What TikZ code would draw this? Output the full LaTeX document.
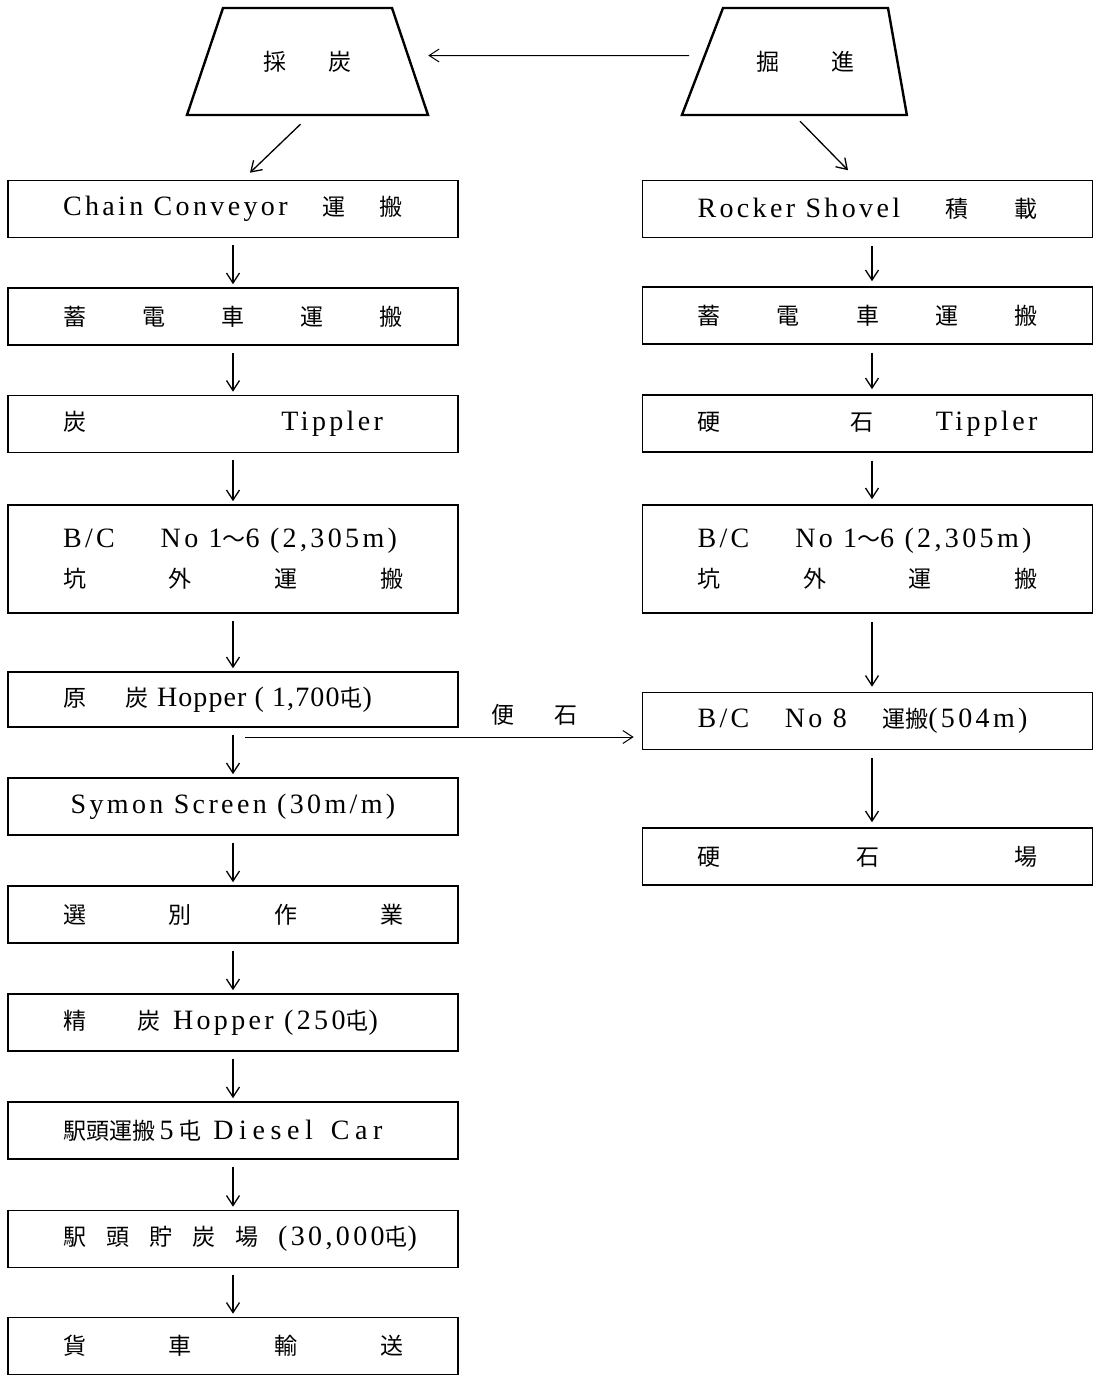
\documentclass[tikz,border=0pt]{standalone}
\usepackage{fontspec}
\setmainfont{Liberation Serif}[LetterSpace=4]
\newfontfamily\jpfont{Noto Sans CJK JP}
\newfontfamily\lspfont{Liberation Serif}[LetterSpace=12]
\newfontfamily\lspwide{Liberation Serif}[LetterSpace=20]
\usetikzlibrary{shapes.geometric,arrows.meta,positioning}
\newcommand{\ja}[1]{{\jpfont\fontsize{23}{28}\selectfont #1}}
\newcommand{\boxrow}[1]{\hbox to 340pt{#1}}

\begin{document}
\begin{tikzpicture}[x=1pt,y=1pt,
  box/.style={draw, line width=1.6pt, minimum width=450pt, minimum height=57pt, inner sep=0pt, font=\fontsize{28}{34}\selectfont},
  trap/.style={draw, line width=2.4pt, trapezium, text height=20pt, text depth=3pt, inner ysep=42pt},
  flow/.style={line width=1.3pt, -{Straight Barb[length=10pt,width=13pt]}, shorten <=7pt, shorten >=3pt}]
 \useasboundingbox (0,0) rectangle (1095,-1376);
 \node[trap, trapezium angle=71.4, inner xsep=40.5pt] (saitan) at (307.5,-61.5) {\ja{採\hspace{42pt}炭}};
 \node[trap, trapezium left angle=69, trapezium right angle=80, inner xsep=33.5pt] (kussin) at (805.5,-61.5) {\ja{掘\hspace{52pt}進}};

 \node[box] (chain) at (233,-209) {\boxrow{\lspfont Chain Conveyor\hfill\ja{運}\hfill\ja{搬}}};
 \node[box] (battL) at (233,-316.5) {\boxrow{\ja{蓄\hfill 電\hfill 車\hfill 運\hfill 搬}}};
 \node[box] (tipL) at (233,-424) {\boxrow{\ja{炭}\hfill{\lspfont Tippler}\hspace*{20pt}}};
 \node[box, minimum height=108pt, align=center] (bcL) at (233,-559) {\boxrow{\lspfont B/C\hfill No 1\ja{〜}6 (2,305m)\hspace*{6pt}}\\[6pt]\boxrow{\ja{坑\hfill 外\hfill 運\hfill 搬}}};
 \node[box, minimum height=55pt] (rawhop) at (233,-699.5) {\boxrow{\ja{原}\hspace{40pt}\ja{炭}\hspace{8pt}Hopper ( 1,700\ja{屯})\hfill}};
 \node[box] (screen) at (233,-806.5) {\boxrow{\hfil\lspfont Symon Screen (30m/m)\hfil}};
 \node[box] (sort) at (233,-914.5) {\boxrow{\ja{選\hfill 別\hfill 作\hfill 業}}};
 \node[box] (cleanhop) at (233,-1022.5) {\boxrow{\ja{精}\hspace{52pt}\ja{炭}\hspace{12pt}{\lspfont Hopper (250}\ja{屯}{\lspfont )}\hfill}};
 \node[box] (diesel) at (233,-1130.5) {\boxrow{\ja{駅頭運搬}\,5\,\ja{屯}\hspace{12pt}{\lspwide Diesel}\hspace{18pt}{\lspwide Car}\hfill}};
 \node[box] (yard) at (233,-1239) {\boxrow{\ja{駅}\hfill\ja{頭}\hfill\ja{貯}\hfill\ja{炭}\hfill\ja{場}\hfill{\lspfont (30,000}\ja{屯}{\lspfont )}\hspace*{-14pt}}};
 \node[box] (wagon) at (233,-1346) {\boxrow{\ja{貨\hfill 車\hfill 輸\hfill 送}}};

 \node[box] (shovel) at (867.5,-209) {\boxrow{\lspfont Rocker Shovel\hfill\ja{積}\hfill\ja{載}}};
 \node[box] (battR) at (867.5,-315.5) {\boxrow{\ja{蓄\hfill 電\hfill 車\hfill 運\hfill 搬}}};
 \node[box] (tipR) at (867.5,-423.5) {\boxrow{\ja{硬}\hspace{130pt}\ja{石}\hfill{\lspfont Tippler}}};
 \node[box, minimum height=108pt, align=center] (bcR) at (867.5,-559) {\boxrow{\lspfont B/C\hfill No 1\ja{〜}6 (2,305m)\hspace*{6pt}}\\[6pt]\boxrow{\ja{坑\hfill 外\hfill 運\hfill 搬}}};
 \node[box] (bcEight) at (867.5,-721) {\boxrow{\lspfont B/C\hfill No 8\hfill\ja{運搬}(504m)\hspace*{10pt}}};
 \node[box] (rockyard) at (867.5,-856.5) {\boxrow{\ja{硬\hfill 石\hfill 場}}};

 \draw[flow, line width=1pt, shorten <=12pt, shorten >=17pt] ([yshift=6pt]kussin.west) -- ([yshift=6pt]saitan.east);
 \draw[flow, shorten <=0pt, shorten >=0pt] ([xshift=-7pt,yshift=-8pt]saitan.south) -- ([xshift=17pt,yshift=7pt]chain.north);
 \draw[flow, shorten <=0pt, shorten >=0pt] ([xshift=-5.5pt,yshift=-5pt]kussin.south) -- ([xshift=-19.5pt,yshift=9.5pt]shovel.north);

 \foreach \a/\b in {chain/battL, battL/tipL, tipL/bcL, bcL/rawhop, rawhop/screen, screen/sort, sort/cleanhop, cleanhop/diesel, diesel/yard, yard/wagon}
  \draw[flow] (\a.south) -- (\b.north);
 \foreach \a/\b in {shovel/battR, battR/tipR, tipR/bcR, bcR/bcEight, bcEight/rockyard}
  \draw[flow, shorten <=8pt, shorten >=5pt] ([xshift=4.5pt]\a.south) -- ([xshift=4.5pt]\b.north);

 \coordinate (fork) at (245,-737);
 \draw[flow, line width=1pt, shorten <=0pt, shorten >=8pt] (fork) -- (fork -| bcEight.west) node[pos=0.73, above=8pt] (hardrock) {\ja{便\hspace{40pt}石}};
\end{tikzpicture}
\end{document}
